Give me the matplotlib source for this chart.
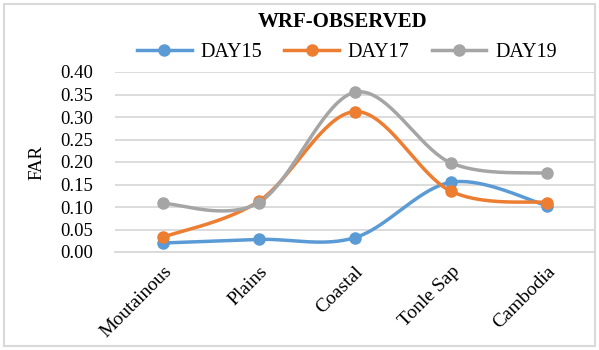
import numpy as np
import matplotlib
matplotlib.use("Agg")
import matplotlib.pyplot as plt
from matplotlib.patches import Rectangle
from matplotlib.lines import Line2D

categories = ["Moutainous", "Plains", "Coastal", "Tonle Sap", "Cambodia"]
day15 = [0.020, 0.028, 0.032, 0.155, 0.103]
day17 = [0.033, 0.113, 0.312, 0.135, 0.110]
day19 = [0.108, 0.110, 0.355, 0.198, 0.175]
series_names = ["DAY15", "DAY17", "DAY19"]
colors = ["#5B9BD5", "#ED7D31", "#A5A5A5"]
yticks = [0.00, 0.05, 0.10, 0.15, 0.20, 0.25, 0.30, 0.35, 0.40]

plt.rcParams['font.family'] = ['Liberation Serif', 'DejaVu Serif']

def smooth(x, y, n=40):
    x = np.asarray(x, float); y = np.asarray(y, float)
    px = np.concatenate([[x[0]], x, [x[-1]]])
    py = np.concatenate([[y[0]], y, [y[-1]]])
    xs, ys = [], []
    for i in range(1, len(px) - 2):
        p0 = np.array([px[i - 1], py[i - 1]]); p1 = np.array([px[i], py[i]])
        p2 = np.array([px[i + 1], py[i + 1]]); p3 = np.array([px[i + 2], py[i + 2]])
        c1 = p1 + (p2 - p0) / 6.0
        c2 = p2 - (p3 - p1) / 6.0
        t = np.linspace(0, 1, n)[:, None]
        pts = ((1 - t) ** 3) * p1 + 3 * ((1 - t) ** 2) * t * c1 + 3 * (1 - t) * t ** 2 * c2 + t ** 3 * p2
        xs.extend(pts[:, 0]); ys.extend(pts[:, 1])
    return np.array(xs), np.array(ys)

fig = plt.figure(figsize=(5.99, 3.5), dpi=100)
ax = fig.add_axes([115 / 599, 1 - 252 / 350, 480 / 599, 180 / 350])

xpos = np.arange(len(categories))
for vals, name, c in zip([day15, day17, day19], series_names, colors):
    sx, sy = smooth(xpos, vals)
    ax.plot(sx, sy, color=c, lw=2.5, solid_capstyle='round', zorder=3)
    ax.plot(xpos, vals, 'o', color=c, ms=8, zorder=4)

ax.set_xlim(-0.5, len(categories) - 0.5)
ax.set_ylim(0, 0.40)
ax.set_yticks(yticks)
ax.set_yticklabels([f"{v:.2f}" for v in yticks], fontsize=13.5)
ax.yaxis.grid(True, color="#D9D9D9", lw=1.3)
ax.set_axisbelow(True)
ax.set_xticks(xpos)
ax.set_xticklabels(categories, rotation=45, ha='right', rotation_mode='anchor', fontsize=14)
ax.tick_params(axis='x', length=0, pad=8)
ax.tick_params(axis='y', length=0, pad=16)
for s in ax.spines.values():
    s.set_visible(False)
ax.spines['bottom'].set_visible(True)
ax.spines['bottom'].set_color("#D9D9D9")
ax.spines['bottom'].set_linewidth(1.3)

ax.set_ylabel("FAR", fontsize=13.5)
ax.yaxis.set_label_coords(-0.145, 0.5)

fig.text(343 / 599, 1 - 22 / 350, "WRF-OBSERVED", ha='center', va='center',
         fontsize=15, fontweight='bold')

handles = [Line2D([0], [0], color=c, lw=2.5, marker='o', ms=8) for c in colors]
leg = fig.legend(handles, series_names, loc='center', bbox_to_anchor=(347 / 599, 1 - 52 / 350),
                 ncol=3, frameon=False, fontsize=14.5, handlelength=2.7, columnspacing=1.1,
                 handletextpad=0.45)

fig.patches.append(Rectangle((4 / 599, 4 / 350), 591 / 599, 342 / 350, transform=fig.transFigure,
                             fill=False, edgecolor="#D9D9D9", lw=1.5))

fig.savefig("out.png", dpi=100)
